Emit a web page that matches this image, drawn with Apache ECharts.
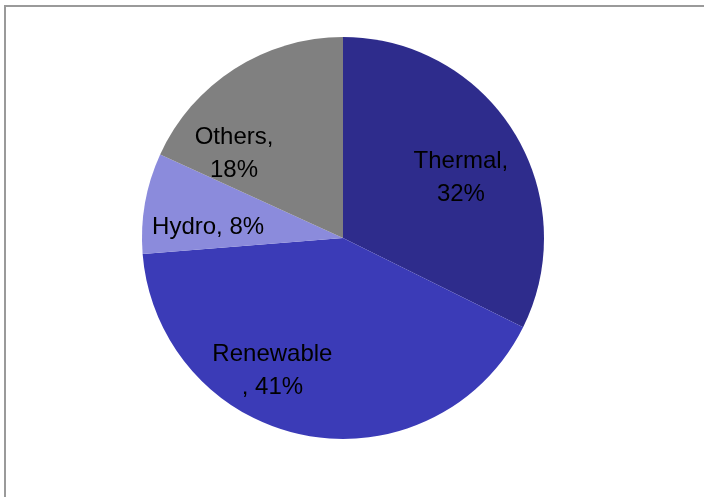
<!DOCTYPE html>
<html>
<head>
<meta charset="utf-8">
<style>
html,body{margin:0;padding:0;background:#fff;}
#chart{width:704px;height:497px;}
</style>
<script src="https://cdn.jsdelivr.net/npm/echarts@6/dist/echarts.min.js"></script>
</head>
<body>
<div id="chart"></div>
<script>
var categories = ['Thermal', 'Renewable', 'Hydro', 'Others'];
var shares = [32, 41, 8, 18];
var separators = [',\n', '\n, ', ', ', ',\n'];
var colors = ['#2E2C8C', '#3B3BB7', '#8B8BDC', '#808080'];
var labelOffsets = [[30, -6], [-51, 31], [-33, 7], [-53, 3]];

var chart = echarts.init(document.getElementById('chart'));
var data = categories.map(function (c, i) {
  return {
    name: c,
    value: shares[i],
    itemStyle: { color: colors[i] },
    label: { offset: labelOffsets[i] }
  };
});
chart.setOption({
  animation: false,
  graphic: [
    { type: 'line', shape: { x1: 4, y1: 6, x2: 704, y2: 6 }, style: { stroke: '#9a9a9a', lineWidth: 2 } },
    { type: 'line', shape: { x1: 5, y1: 5, x2: 5, y2: 497 }, style: { stroke: '#9a9a9a', lineWidth: 2 } }
  ],
  series: [{
    type: 'pie',
    center: [343, 238],
    radius: 201,
    startAngle: 90,
    clockwise: true,
    avoidLabelOverlap: false,
    labelLine: { show: false },
    itemStyle: { borderWidth: 0 },
    label: {
      show: true,
      position: 'inside',
      fontFamily: 'Liberation Sans',
      fontSize: 24,
      lineHeight: 33,
      color: '#000',
      align: 'center',
      formatter: function (p) {
        return p.name + separators[p.dataIndex] + p.value + '%';
      }
    },
    emphasis: { disabled: true },
    data: data
  }]
});
</script>
</body>
</html>
